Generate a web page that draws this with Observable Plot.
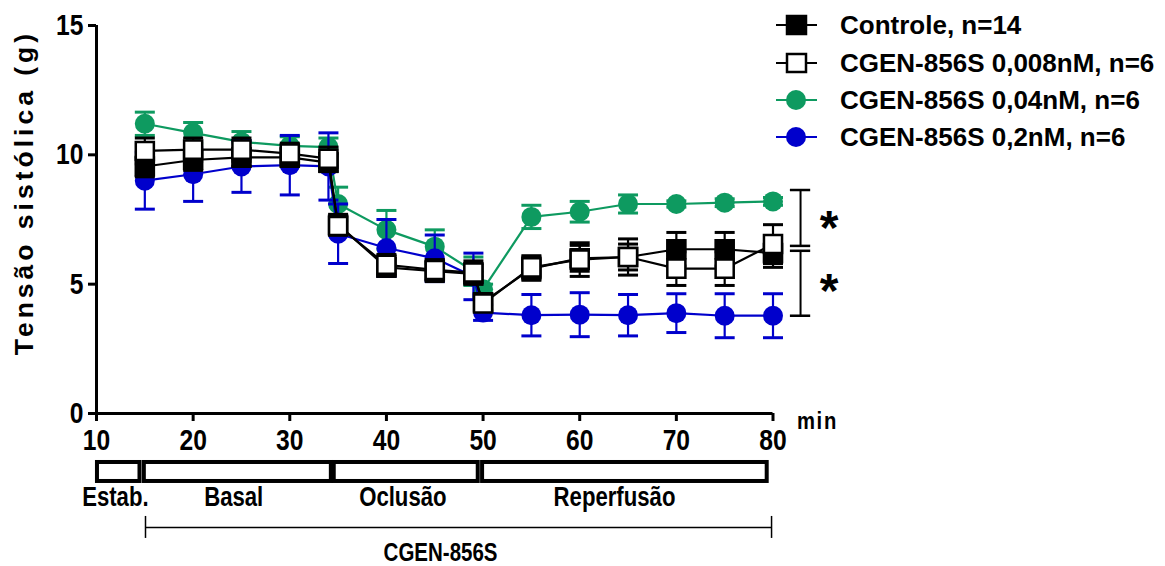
<!DOCTYPE html>
<html><head><meta charset="utf-8">
<script src="https://cdn.jsdelivr.net/npm/d3@7"></script>
<script src="https://cdn.jsdelivr.net/npm/@observablehq/plot@0.6"></script>
<style>
body{margin:0;background:#fff;}
#wrap{position:relative;width:1165px;height:566px;overflow:hidden;}
.row{position:absolute;left:775px;height:30px;display:flex;align-items:center;white-space:nowrap;
 font:bold 26px "Liberation Sans",Arial,sans-serif;color:#000;}
.row span{margin-left:21px;}
</style></head><body><div id="wrap"></div>
<script>
// ---- data ----
const times = [15, 20, 25, 30, 34, 35, 40, 45, 49, 50, 55, 60, 65, 70, 75, 80];
const seriesNames = ["Controle, n=14", "CGEN-856S 0,008nM, n=6", "CGEN-856S 0,04nM, n=6", "CGEN-856S 0,2nM, n=6"];
const controleMean = [9.55, 9.8, 9.9, 9.9, 9.7, 7.3, 5.65, 5.5, 5.4, 4.3, 5.6, 6.0, 6.05, 6.35, 6.35, 6.2];
const controleSem  = [0.4, 0.4, 0.35, 0.35, 0.35, 0.4, 0.35, 0.4, 0.4, 0.3, 0.45, 0.5, 0.5, 0.65, 0.65, 0.55];
const d008Mean = [10.15, 10.2, 10.2, 10.05, 9.85, 7.25, 5.75, 5.55, 5.45, 4.25, 5.65, 5.95, 6.05, 5.6, 5.6, 6.55];
const d008Sem  = [0.5, 0.45, 0.45, 0.4, 0.45, 0.35, 0.4, 0.4, 0.45, 0.3, 0.45, 0.65, 0.7, 0.65, 0.65, 0.75];
const d04Mean = [11.2, 10.85, 10.5, 10.35, 10.3, 8.1, 7.1, 6.45, 5.5, 4.8, 7.6, 7.8, 8.1, 8.1, 8.15, 8.2];
const d04Sem  = [0.45, 0.4, 0.4, 0.35, 0.35, 0.65, 0.75, 0.65, 0.55, 0.2, 0.45, 0.4, 0.35, 0.12, 0.15, 0.15];
const d02Mean = [9.0, 9.25, 9.55, 9.6, 9.55, 6.95, 6.4, 6.0, 5.3, 3.9, 3.8, 3.82, 3.8, 3.88, 3.78, 3.78];
const d02Sem  = [1.1, 1.05, 1.0, 1.15, 1.3, 1.15, 1.1, 0.9, 0.9, 0.3, 0.8, 0.85, 0.8, 0.75, 0.85, 0.85];

const xTicks = [10, 20, 30, 40, 50, 60, 70, 80];
const yTicks = [0, 5, 10, 15];

const phaseNames  = ["Estab.", "Basal", "Oclusão", "Reperfusão"];
const phaseStart  = [10.1, 14.95, 34.6, 49.95];
const phaseEnd    = [14.5, 34.3, 49.5, 79.4];
const phaseLabelX = [11.95, 24.2, 41.7, 63.6];
const treatmentLabel = "CGEN-856S";
const treatmentSpan = [15.07, 79.85];

const sigBracketX = 82.85;
const sigSegments = [[8.64, 6.48], [6.29, 3.78]];
const sigStarY = [7.38, 4.95];

const yTitle = "Tensão sistólica (g)";
const xUnit = "min";

// ---- styles ----
const GREEN = "#0e9a60", BLUE = "#0000cc";
const FONT = '"Liberation Sans",Arial,sans-serif';
const NARROW_FACTOR = 0.82;

const styles = [
  {mean: d04Mean, sem: d04Sem, color: GREEN, symbol: "circle", fill: GREEN, stroke: "none", r: 10},
  {mean: d02Mean, sem: d02Sem, color: BLUE, symbol: "circle", fill: BLUE, stroke: "none", r: 10},
  {mean: controleMean, sem: controleSem, color: "black", symbol: "square", fill: "black", stroke: "black", r: 10.2},
  {mean: d008Mean, sem: d008Sem, color: "black", symbol: "square", fill: "white", stroke: "black", r: 10.2}
];

const capSymbol = {draw(ctx) { ctx.moveTo(-10, 0); ctx.lineTo(10, 0); }};

const marks = [];
for (const s of styles) {
  const data = times.map((t, i) => ({t, m: s.mean[i], e: s.sem[i]}));
  const caps = data.flatMap(d => [{t: d.t, y: d.m + d.e}, {t: d.t, y: d.m - d.e}]);
  marks.push(
    Plot.ruleX(data, {x: "t", y1: d => d.m - d.e, y2: d => d.m + d.e, stroke: s.color, strokeWidth: 2.2}),
    Plot.dot(caps, {x: "t", y: "y", symbol: capSymbol, r: 5, fill: "none", stroke: s.color, strokeWidth: 3}),
    Plot.line(data, {x: "t", y: "m", stroke: s.color, strokeWidth: 2.2}),
    Plot.dot(data, {x: "t", y: "m", symbol: s.symbol, r: s.r, fill: s.fill, stroke: s.stroke, strokeWidth: 2.5})
  );
}

const phases = phaseNames.map((name, i) => ({name, x1: phaseStart[i], x2: phaseEnd[i], lx: phaseLabelX[i]}));

const chart = Plot.plot({
  width: 1165, height: 566,
  marginLeft: 96, marginRight: 1165 - 772.5, marginTop: 25, marginBottom: 566 - 413,
  style: {background: "white", color: "black", overflow: "visible"},
  x: {domain: [10, 80]},
  y: {domain: [0, 15]},
  marks: [
    // axes
    Plot.axisY(yTicks, {anchor: "left", tickSize: 8, tickPadding: 5, strokeWidth: 3, fontSize: 30, fontWeight: "bold", fontFamily: FONT, label: null}),
    Plot.axisX(xTicks, {anchor: "bottom", tickSize: 8, tickPadding: 7, strokeWidth: 3, fontSize: 30, fontWeight: "bold", fontFamily: FONT, label: null}),
    Plot.ruleX([10], {y1: 0, y2: 15, strokeWidth: 3}),
    Plot.ruleY([0], {x1: 10, x2: 80, strokeWidth: 3}),
    Plot.text([yTitle], {frameAnchor: "left", textAnchor: "middle", dx: -72, y: 8.54, rotate: -90, fontSize: 26.5, fontWeight: "bold", fontFamily: FONT}),
    Plot.text([xUnit], {x: 84.6, y: -0.3, fontSize: 24, fontWeight: "bold", fontFamily: FONT}),
    ...marks,
    // significance bracket
    Plot.ruleX(sigSegments, {x: sigBracketX, y1: d => d[0], y2: d => d[1], strokeWidth: 2}),
    Plot.ruleY(sigSegments.flat(), {y: d => d, x1: sigBracketX - 1.05, x2: sigBracketX + 1.05, strokeWidth: 2.5}),
    Plot.text(sigStarY, {x: 85.8, y: d => d, text: () => "*", fontSize: 48, fontWeight: "bold", fontFamily: FONT, dy: 6}),
    // phase boxes
    Plot.rect(phases, {x1: "x1", x2: "x2", y1: -1.894, y2: -2.628, fill: "white", stroke: "black", strokeWidth: 4}),
    Plot.text(phases, {x: "lx", y: -3.25, text: "name", fontSize: 27, fontWeight: "bold", fontFamily: FONT}),
    // treatment bracket
    Plot.ruleY([treatmentSpan], {y: -4.41, x1: d => d[0], x2: d => d[1], strokeWidth: 1.5}),
    Plot.ruleX(treatmentSpan, {x: d => d, y1: -3.98, y2: -4.83, strokeWidth: 1.5}),
    Plot.text([treatmentLabel], {x: 45.6, y: -5.41, fontSize: 25, fontWeight: "bold", fontFamily: FONT})
  ]
});

const wrap = document.getElementById("wrap");
wrap.appendChild(chart);

// condensed look (Arial Narrow style) for tick labels and annotation texts
const narrowTexts = new Set([...xTicks, ...yTicks].map(String).concat(phaseNames, [treatmentLabel]));
d3.select(chart).selectAll("text").each(function() {
  const txt = this.textContent;
  if (narrowTexts.has(txt)) {
    const w = this.getComputedTextLength();
    this.setAttribute("textLength", (w * NARROW_FACTOR).toFixed(1));
    this.setAttribute("lengthAdjust", "spacingAndGlyphs");
  } else if (txt === xUnit) {
    this.setAttribute("textLength", "41");
    this.setAttribute("lengthAdjust", "spacingAndGlyphs");
    this.style.letterSpacing = "2px";
  } else if (txt === yTitle) {
    this.style.letterSpacing = "4px";
  }
});

// legend (HTML, overlaid at top-right)
const legendStyles = [styles[2], styles[3], styles[0], styles[1]];
const rowCenters = [25, 63, 100, 137];
seriesNames.forEach((name, i) => {
  const s = legendStyles[i];
  const row = document.createElement("div");
  row.className = "row";
  row.style.top = (rowCenters[i] - 15) + "px";
  const marker = s.symbol === "square"
    ? `<rect x="12" y="6" width="19" height="18" fill="${s.fill}" stroke="black" stroke-width="2.5"/>`
    : `<circle cx="21" cy="15" r="10" fill="${s.fill}"/>`;
  row.innerHTML = `<svg width="44" height="30"><line x1="1" x2="42" y1="15" y2="15" stroke="${s.color}" stroke-width="2.2"/>${marker}</svg><span>${name}</span>`;
  wrap.appendChild(row);
});
</script>
</body></html>
